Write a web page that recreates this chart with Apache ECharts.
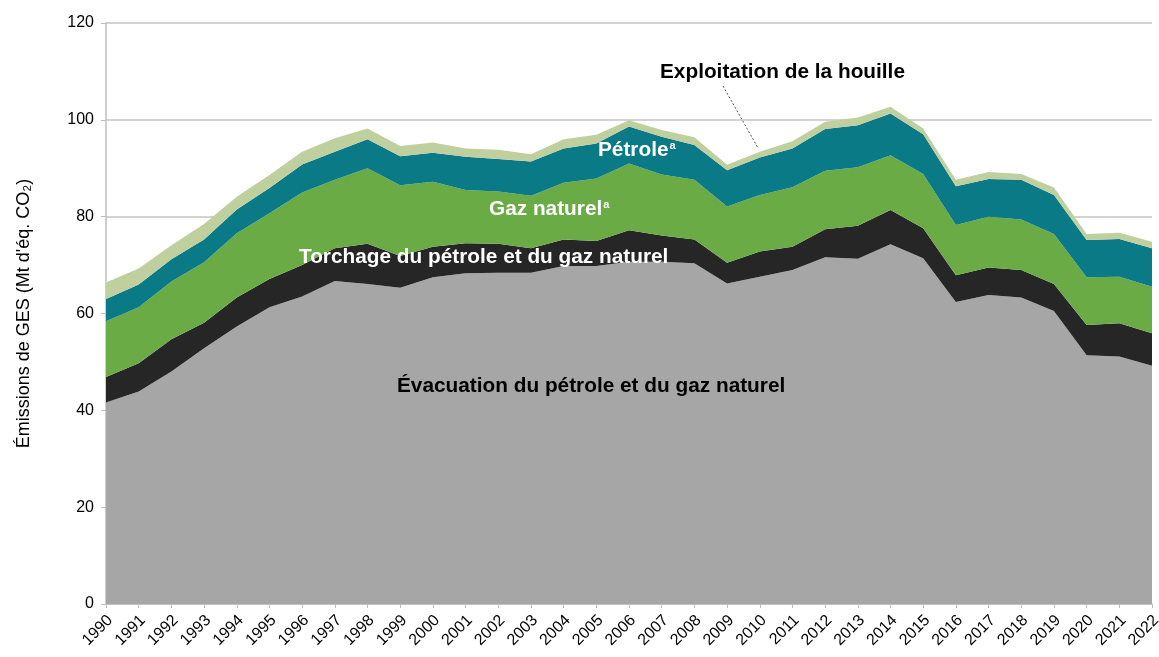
<!DOCTYPE html>
<html>
<head>
<meta charset="utf-8">
<script src="https://cdn.jsdelivr.net/npm/echarts@6/dist/echarts.min.js"></script>
<style>
html, body { margin: 0; padding: 0; background: #fff; }
#container { width: 1159px; height: 657px; }
</style>
</head>
<body>
<div id="container"></div>
<script>
// années
var years = ['1990','1991','1992','1993','1994','1995','1996','1997','1998','1999',
    '2000','2001','2002','2003','2004','2005','2006','2007','2008','2009',
    '2010','2011','2012','2013','2014','2015','2016','2017','2018','2019',
    '2020','2021','2022'];
// Mt d'éq. CO2
var evacuation = [41.6, 43.9, 48.0, 52.8, 57.3, 61.3, 63.5, 66.7, 66.1, 65.3,
    67.5, 68.3, 68.4, 68.4, 69.8, 69.8, 70.7, 70.7, 70.4, 66.2,
    67.6, 69.0, 71.6, 71.3, 74.3, 71.4, 62.4, 63.8, 63.3, 60.5,
    51.4, 51.1, 49.2];
var torchage = [5.3, 5.8, 6.7, 5.3, 6.0, 5.8, 6.5, 6.8, 8.3, 6.6,
    6.3, 6.2, 6.0, 5.1, 5.5, 5.2, 6.5, 5.4, 4.9, 4.3,
    5.2, 4.8, 5.8, 6.8, 7.1, 6.2, 5.5, 5.7, 5.7, 5.6,
    6.2, 6.9, 6.7];
var gazNaturel = [11.5, 11.6, 11.9, 12.5, 13.3, 13.6, 15.0, 14.1, 15.6, 14.6,
    13.4, 11.0, 10.8, 10.8, 11.7, 12.9, 13.8, 12.6, 12.3, 11.6,
    11.7, 12.3, 12.1, 12.1, 11.3, 11.2, 10.4, 10.5, 10.4, 10.3,
    9.9, 9.6, 9.6];
var petrole = [4.6, 4.7, 4.6, 4.7, 4.9, 5.2, 5.8, 5.8, 6.0, 6.0,
    6.0, 6.9, 6.7, 7.1, 7.1, 7.2, 7.6, 7.8, 7.2, 7.5,
    7.7, 8.0, 8.6, 8.7, 8.6, 8.2, 8.0, 7.8, 8.2, 8.1,
    7.7, 7.8, 8.0];
var houille = [3.4, 3.3, 2.9, 3.2, 2.6, 2.7, 2.6, 2.8, 2.2, 2.1,
    2.1, 1.7, 1.9, 1.5, 1.9, 1.8, 1.3, 1.4, 1.6, 1.1,
    1.2, 1.5, 1.5, 1.6, 1.4, 1.2, 1.3, 1.4, 1.2, 1.5,
    1.2, 1.3, 1.3];
var yTicks = [0, 20, 40, 60, 80, 100, 120];

var police = '"Liberation Sans", Arial, sans-serif';
var gras = 'bold 20.8px ' + police;

function couche(nom, data, couleur) {
    return {
        name: nom,
        type: 'line',
        stack: 'total',
        data: data,
        showSymbol: false,
        symbol: 'none',
        lineStyle: { width: 0 },
        areaStyle: { color: couleur, opacity: 1 },
        emphasis: { disabled: true }
    };
}

var sup = {
    m: { fill: '#fff', font: gras },
    s: { fill: '#fff', font: 'bold 11px ' + police, verticalAlign: 'top', padding: [0, 0, 9, 1] }
};

var myChart = echarts.init(document.getElementById('container'));
var option = {
    animation: false,
    grid: { left: 106, right: 7, top: 23, bottom: 53, outerBoundsMode: 'none', containLabel: false },
    xAxis: {
        type: 'category',
        data: years,
        boundaryGap: false,
        axisLine: { lineStyle: { color: '#bfbfbf', width: 1.5 } },
        axisTick: { show: true, length: 4, lineStyle: { color: '#bfbfbf' } },
        axisLabel: {
            interval: 0,
            rotate: 45,
            margin: 18,
            padding: [0, -6, 0, 0],
            color: '#000',
            fontSize: 16,
            fontFamily: police
        },
        splitLine: { show: false }
    },
    yAxis: {
        type: 'value',
        min: yTicks[0],
        max: yTicks[yTicks.length - 1],
        interval: 20,
        name: 'Émissions de GES (Mt d\'éq. CO₂)',
        nameLocation: 'middle',
        nameGap: 73,
        nameTextStyle: { color: '#000', fontSize: 18, fontFamily: police },
        axisLine: { show: true, lineStyle: { color: '#bfbfbf', width: 1.5 } },
        axisTick: { show: true, length: 5, lineStyle: { color: '#bfbfbf' } },
        axisLabel: { color: '#000', fontSize: 16, fontFamily: police, margin: 12 },
        splitLine: { lineStyle: { color: '#c4c4c4', width: 1.5 } }
    },
    series: [
        couche('Évacuation du pétrole et du gaz naturel', evacuation, '#a6a6a6'),
        couche('Torchage du pétrole et du gaz naturel', torchage, '#262626'),
        couche('Gaz naturel', gazNaturel, '#6aab46'),
        couche('Pétrole', petrole, '#0a7a87'),
        couche('Exploitation de la houille', houille, '#bfcf9e')
    ],
    graphic: [
        {
            type: 'line', z: 100,
            shape: { x1: 723, y1: 86, x2: 758, y2: 148 },
            style: { stroke: '#555', lineWidth: 1, lineDash: [2, 2] }
        },
        {
            type: 'text', left: 660, top: 62, z: 100,
            style: { text: 'Exploitation de la houille', fill: '#000', font: gras }
        },
        {
            type: 'text', left: 598, top: 140, z: 100,
            style: { text: '{m|Pétrole}{s|a}', rich: sup }
        },
        {
            type: 'text', left: 489, top: 199, z: 100,
            style: { text: '{m|Gaz naturel}{s|a}', rich: sup }
        },
        {
            type: 'text', left: 299, top: 247, z: 100,
            style: { text: 'Torchage du pétrole et du gaz naturel', fill: '#fff', font: gras }
        },
        {
            type: 'text', left: 397, top: 376, z: 100,
            style: { text: 'Évacuation du pétrole et du gaz naturel', fill: '#000', font: gras }
        }
    ]
};
myChart.setOption(option);
</script>
</body>
</html>
